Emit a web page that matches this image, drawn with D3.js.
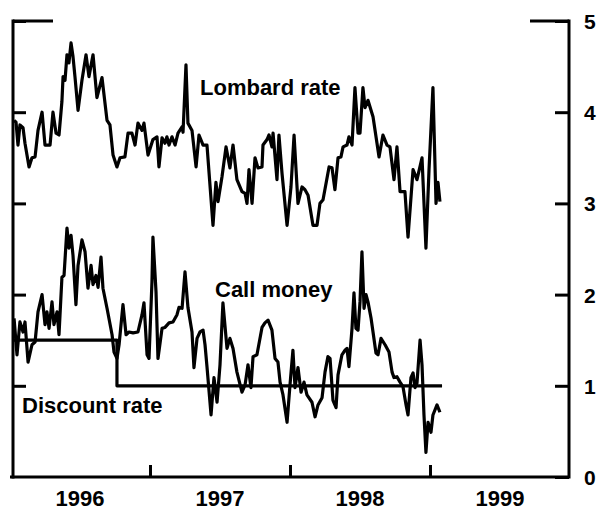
<!DOCTYPE html>
<html>
<head>
<meta charset="utf-8">
<script src="https://cdn.jsdelivr.net/npm/d3@7"></script>
<style>
  body { margin: 0; background: #fff; overflow: hidden; }
  text { font-family: "Liberation Sans", Arial, Helvetica, sans-serif; font-weight: bold; fill: #000; }
</style>
</head>
<body>
<div id="chart-area"></div>
<script>
// Data (decimal year, per cent)
var lombardYears = [1996.029,1996.043,1996.057,1996.071,1996.093,1996.107,1996.136,1996.157,1996.179,1996.200,1996.229,1996.250,1996.286,1996.307,1996.329,1996.350,1996.371,1996.379,1996.393,1996.407,1996.421,1996.436,1996.450,1996.464,1996.486,1996.514,1996.543,1996.564,1996.593,1996.621,1996.657,1996.693,1996.714,1996.736,1996.764,1996.786,1996.821,1996.843,1996.871,1996.893,1996.914,1996.943,1996.957,1996.986,
  1997.021,1997.050,1997.064,1997.086,1997.107,1997.121,1997.136,1997.157,1997.179,1997.200,1997.229,1997.236,1997.257,1997.271,1997.300,1997.329,1997.350,1997.379,1997.407,1997.450,1997.471,1997.486,1997.514,1997.543,1997.571,1997.593,1997.621,1997.657,1997.679,1997.693,1997.707,1997.729,1997.750,1997.771,1997.800,1997.807,1997.836,1997.850,1997.871,1997.879,1997.907,1997.921,1997.943,1997.979,
  1998.007,1998.029,1998.057,1998.086,1998.107,1998.129,1998.164,1998.193,1998.214,1998.236,1998.279,1998.300,1998.321,1998.343,1998.364,1998.379,1998.407,1998.421,1998.443,1998.464,1998.486,1998.500,1998.521,1998.536,1998.557,1998.593,1998.636,1998.664,1998.693,1998.714,1998.743,1998.764,1998.786,1998.821,1998.843,1998.879,1998.907,1998.943,1998.971,1998.993,
  1999.021,1999.043,1999.057,1999.071];
var lombardRate = [3.91,3.89,3.64,3.86,3.83,3.66,3.40,3.50,3.51,3.80,4.00,3.64,3.64,4.00,3.77,3.75,4.12,4.39,4.35,4.63,4.54,4.76,4.61,4.39,4.02,4.35,4.63,4.39,4.63,4.16,4.38,3.91,3.86,3.53,3.40,3.50,3.51,3.77,3.77,3.64,3.88,3.80,3.88,3.53,
  3.70,3.73,3.40,3.72,3.66,3.73,3.64,3.73,3.64,3.77,3.84,3.78,4.52,3.88,3.80,3.40,3.75,3.64,3.64,2.76,3.23,3.02,3.29,3.62,3.39,3.64,3.26,3.13,3.11,3.00,3.37,3.00,3.50,3.39,3.40,3.64,3.70,3.75,3.62,3.77,3.26,3.75,3.33,2.76,
  3.18,3.75,3.00,3.18,3.15,3.09,2.76,2.76,3.00,3.04,3.40,3.39,3.15,3.50,3.51,3.62,3.64,3.73,3.64,4.27,3.77,3.77,4.27,4.05,4.13,3.95,3.51,3.75,3.64,3.62,3.26,3.62,3.13,3.13,2.63,3.37,3.26,3.50,2.51,3.37,
  4.27,3.00,3.23,3.02];

var callYears = [1996.029,1996.050,1996.071,1996.093,1996.107,1996.129,1996.157,1996.179,1996.200,1996.229,1996.250,1996.264,1996.279,1996.300,1996.314,1996.336,1996.350,1996.371,1996.386,1996.407,1996.421,1996.436,1996.450,1996.471,1996.486,1996.514,1996.536,1996.557,1996.579,1996.593,1996.614,1996.629,1996.650,1996.664,1996.693,1996.729,1996.743,1996.764,1996.779,1996.807,1996.829,1996.850,1996.879,1996.914,1996.943,1996.957,1996.979,1996.993,
  1997.014,1997.021,1997.043,1997.057,1997.086,1997.107,1997.136,1997.164,1997.193,1997.207,1997.229,1997.250,1997.271,1997.300,1997.314,1997.336,1997.357,1997.379,1997.393,1997.407,1997.436,1997.457,1997.479,1997.500,1997.521,1997.550,1997.571,1997.593,1997.621,1997.657,1997.679,1997.700,1997.721,1997.736,1997.764,1997.800,1997.821,1997.843,1997.871,1997.893,1997.914,1997.929,1997.950,1997.979,
  1998.000,1998.021,1998.036,1998.057,1998.079,1998.100,1998.121,1998.157,1998.179,1998.200,1998.229,1998.250,1998.271,1998.286,1998.307,1998.329,1998.343,1998.371,1998.393,1998.407,1998.421,1998.443,1998.457,1998.471,1998.486,1998.500,1998.514,1998.529,1998.543,1998.557,1998.579,1998.593,1998.614,1998.629,1998.650,1998.679,1998.707,1998.729,1998.743,1998.764,1998.786,1998.807,1998.829,1998.843,1998.864,1998.879,1998.893,1998.907,1998.929,1998.943,1998.957,1998.971,1998.986,
  1999.007,1999.021,1999.050,1999.071];
var callMoney = [1.74,1.34,1.70,1.59,1.70,1.26,1.45,1.48,1.81,2.00,1.67,1.81,1.63,1.92,1.67,1.81,1.56,2.19,2.21,2.73,2.51,2.65,2.43,1.89,2.32,2.60,2.47,2.07,2.32,2.11,2.21,2.08,2.41,2.07,1.85,1.56,1.37,1.30,1.45,1.89,1.56,1.59,1.58,1.59,1.78,1.91,1.34,1.30,
  2.14,2.63,2.03,1.30,1.63,1.64,1.69,1.70,1.78,1.86,1.85,2.25,1.86,1.59,1.20,1.52,1.59,1.61,1.45,1.21,0.68,1.09,0.82,1.23,1.91,1.41,1.52,1.41,1.15,0.93,1.01,1.23,0.98,1.32,1.34,1.64,1.69,1.72,1.61,1.30,1.26,1.04,0.90,0.60,
  1.01,1.39,0.98,1.20,0.93,1.04,0.90,0.82,0.66,0.79,0.87,1.15,1.32,1.30,0.84,0.76,1.12,1.34,1.39,1.41,1.21,1.63,2.02,1.63,1.61,1.92,2.47,1.85,2.00,1.92,1.74,1.59,1.36,1.34,1.52,1.45,1.37,1.15,1.09,1.10,1.04,0.99,0.79,0.68,1.09,1.14,0.98,1.03,1.50,1.23,0.68,0.27,0.60,
  0.49,0.68,0.79,0.71];

var discountYears = [1996.021, 1996.764, 1996.764, 1999.086];
var discountRate = [1.5, 1.5, 1.0, 1.0];

var yTicks = [1, 2, 3, 4, 5];
var yearBreaks = [1997, 1998, 1999];
var yearLabels = [1996, 1997, 1998, 1999];

var width = 601;
var height = 512;

var svg = d3.select("#chart-area").append("svg").attr("width", width).attr("height", height);

// Scales
var x = d3.scaleLinear().domain([1996, 2000]).range([10, 570]);
var y = d3.scaleLinear().domain([0, 5]).range([477, 21]);

var leftX = 13, rightX = 569;

// Axes
var leftAxis = svg.append("g").attr("transform", "translate(" + leftX + ",0)")
  .call(d3.axisRight(y).tickValues(yTicks).tickSizeInner(13).tickSizeOuter(0).tickFormat(""));

var rightAxis = svg.append("g").attr("transform", "translate(" + rightX + ",0)")
  .call(d3.axisRight(y).tickValues([0].concat(yTicks)).tickSizeInner(-14).tickSizeOuter(0)
    .tickPadding(15).tickFormat(d3.format("d")));
rightAxis.selectAll("text").attr("font-size", "21px").attr("text-anchor", "start").attr("dy", "0.36em");

var bottomAxis = svg.append("g").attr("transform", "translate(0," + y(0) + ")")
  .call(d3.axisBottom(x).tickValues(yearBreaks).tickSizeInner(-12).tickSizeOuter(0).tickFormat(""));
bottomAxis.select(".domain").attr("d", "M" + x(1996) + ",0H" + rightX);

svg.selectAll(".domain, .tick line").attr("stroke", "#000").attr("stroke-width", 3);
leftAxis.select(".domain").attr("d", "M0," + (y(0) + 1.5) + "V" + (y(5) - 1.5));
rightAxis.select(".domain").attr("d", "M0," + (y(0) + 1.5) + "V" + (y(5) - 1.5));

// top end caps
svg.append("line").attr("x1", leftX).attr("x2", 53).attr("y1", y(5)).attr("y2", y(5))
  .attr("stroke", "#000").attr("stroke-width", 3);
svg.append("line").attr("x1", 530).attr("x2", rightX).attr("y1", y(5)).attr("y2", y(5))
  .attr("stroke", "#000").attr("stroke-width", 3);

svg.selectAll(".year-label").data(yearLabels).enter().append("text")
  .attr("class", "year-label")
  .attr("x", function(d) { return x(d + 0.5); })
  .attr("y", 506)
  .attr("text-anchor", "middle")
  .attr("font-size", "22px")
  .text(function(d) { return d; });

// Lines
var line = d3.line().x(function(d) { return x(d[0]); }).y(function(d) { return y(d[1]); });

function drawSeries(xs, ys) {
  svg.append("path")
    .datum(d3.zip(xs, ys))
    .attr("fill", "none")
    .attr("stroke", "#000")
    .attr("stroke-width", 3.2)
    .attr("stroke-linejoin", "round")
    .attr("d", line);
}

drawSeries(discountYears, discountRate);
drawSeries(lombardYears, lombardRate);
drawSeries(callYears, callMoney);

// Labels
svg.append("text").attr("x", 200).attr("y", 95).attr("font-size", "22px").text("Lombard rate");
svg.append("text").attr("x", 215).attr("y", 297).attr("font-size", "22px").text("Call money");
svg.append("text").attr("x", 22).attr("y", 413).attr("font-size", "22px").text("Discount rate");
</script>
</body>
</html>
